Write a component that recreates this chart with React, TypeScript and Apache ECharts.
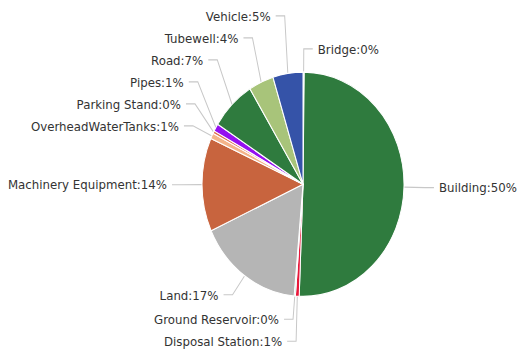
import React, { useEffect, useRef } from "react";
import * as echarts from "echarts";

const categories = [
  "Bridge",
  "Building",
  "Disposal Station",
  "Ground Reservoir",
  "Land",
  "Machinery Equipment",
  "OverheadWaterTanks",
  "Parking Stand",
  "Pipes",
  "Road",
  "Tubewell",
  "Vehicle",
];
const values = [0.2, 50.4, 0.6, 0.2, 16.8, 13.5, 0.8, 0.4, 1.1, 7.2, 4.0, 4.8];
const colors = [
  "#9ad0e0",
  "#2f7b3e",
  "#e8173a",
  "#40d8d0",
  "#b5b5b5",
  "#c8643e",
  "#f4b48a",
  "#e07050",
  "#9410f0",
  "#2f7b3e",
  "#a8c47a",
  "#3553a8",
];

const SY = 1.11;
const H = Math.round(354 / SY);
const CX = 303;
const CY = 166;
const R = 101;
const GAP = 22 / SY;

export default function App() {
  const ref = useRef<HTMLDivElement>(null);
  useEffect(() => {
    if (!ref.current) return;
    const chart = echarts.init(ref.current, undefined, { renderer: "svg" });
    const natural: Record<number, number[][]> = {};
    const series = (layout: (p: any) => any) => ({
      type: "pie",
      center: [CX, CY],
      radius: R,
      startAngle: 90,
      clockwise: true,
      avoidLabelOverlap: false,
      data: categories.map((name, i) => ({
        name,
        value: values[i],
        itemStyle: { color: colors[i] },
      })),
      itemStyle: { borderColor: "#fff", borderWidth: 1 },
      label: {
        formatter: (p: any) => `${p.name}:${Math.round(p.value)}%`,
        color: "#333",
        fontFamily: "DejaVu Sans",
        fontSize: 11.8,
        overflow: "none",
        distanceToLabelLine: 5,
      },
      labelLine: {
        length: 21,
        length2: 9,
        lineStyle: { color: "#c8c8c8", width: 1 },
      },
      labelLayout: layout,
    });

    chart.setOption({
      animation: false,
      series: [
        series((p: any) => {
          if (p.labelLinePoints) natural[p.dataIndex] = p.labelLinePoints;
          return {};
        }),
      ],
    });

    // stack overlapping labels away from the horizontal centre line
    const finalY: Record<number, number> = {};
    const idx = Object.keys(natural).map(Number);
    const sides = [
      idx.filter((i) => natural[i][2][0] < natural[i][0][0]),
      idx.filter((i) => natural[i][2][0] >= natural[i][0][0]),
    ];
    sides.forEach((side) => {
      const upper = side.filter((i) => natural[i][2][1] < CY).sort((a, b) => natural[b][2][1] - natural[a][2][1]);
      const lower = side.filter((i) => natural[i][2][1] >= CY).sort((a, b) => natural[a][2][1] - natural[b][2][1]);
      let prev = Infinity;
      upper.forEach((i) => {
        const y = Math.min(natural[i][2][1], prev - GAP);
        finalY[i] = y;
        prev = y;
      });
      prev = -Infinity;
      lower.forEach((i) => {
        const y = Math.max(natural[i][2][1], prev + GAP);
        finalY[i] = y;
        prev = y;
      });
    });

    chart.setOption({
      series: [
        series((p: any) => {
          const pts = natural[p.dataIndex];
          const y = finalY[p.dataIndex];
          if (!pts || y == null || Math.abs(y - pts[2][1]) < 0.01) return {};
          return {
            y,
            verticalAlign: "middle",
            labelLinePoints: [pts[0], [pts[1][0], y], [pts[2][0], y]],
          };
        }),
      ],
    });
    return () => chart.dispose();
  }, []);
  return (
    <div
      style={{ position: "fixed", left: 0, top: 0, width: 522, height: 354, background: "#fff", overflow: "hidden" }}
    >
      <div
        ref={ref}
        style={{ width: 522, height: H, transform: `scaleY(${SY})`, transformOrigin: "0 0" }}
      />
    </div>
  );
}
